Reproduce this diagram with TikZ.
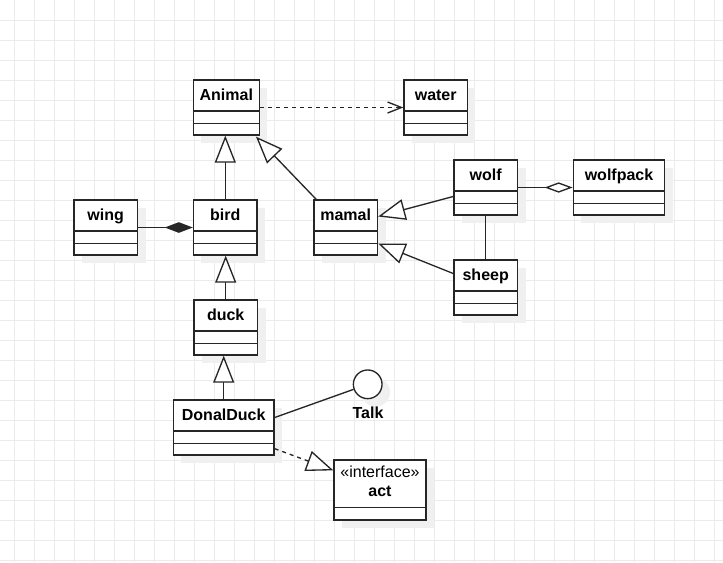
\documentclass[tikz,border=0pt]{standalone}
\usepackage{fontspec}
\setmainfont{Liberation Sans}
\usetikzlibrary{arrows.meta,shadows,calc}

\begin{document}
\begin{tikzpicture}[x=0.75pt,y=-0.75pt,
  every node/.style={font=\fontsize{12pt}{14.5pt}\selectfont\bfseries},
  gridline/.style={draw=black!8,line width=0.75pt},
  boxshadow/.style={drop shadow={shadow xshift=6pt,shadow yshift=-6pt,fill=black!6,opacity=1}},
  umlbox/.style={draw=black!85,fill=white,line width=1pt,inner sep=0pt,
    minimum width=#1,text height=15.5pt,text depth=25.75pt,boxshadow,
    path picture={\draw[black!85,line width=1pt]
      ([yshift=-23.25pt]path picture bounding box.north west) -- ([yshift=-23.25pt]path picture bounding box.north east)
      ([yshift=-32.5pt]path picture bounding box.north west) -- ([yshift=-32.5pt]path picture bounding box.north east);}},
  umlbox/.default=47.75pt,
  ifacebox/.style={draw=black!85,fill=white,line width=1pt,inner sep=0pt,align=center,
    minimum width=#1,text height=27.5pt,text depth=17.5pt,boxshadow,
    path picture={\draw[black!85,line width=1pt]
      ([yshift=-35.5pt]path picture bounding box.north west) -- ([yshift=-35.5pt]path picture bounding box.north east);}},
  ballnode/.style={circle,draw=black!85,fill=white,line width=1pt,inner sep=0pt,minimum size=21.5pt,boxshadow},
  conn/.style={draw=black!85,line width=1pt},
  gen/.style={conn,-{Triangle[open,fill=white,length=20.25pt,width=15.75pt]}},
  realize/.style={gen,dash pattern=on 3pt off 3pt},
  dep/.style={conn,dash pattern=on 3pt off 3pt,-{Straight Barb[length=10.5pt,width=8.25pt]}},
  compose/.style={conn,-{Diamond[length=21pt,width=8pt]}},
  aggregate/.style={conn,-{Diamond[open,fill=white,length=21pt,width=7.75pt]}}]

\fill[white] (0,0) rectangle (723,562);
\useasboundingbox (0,0) rectangle (723,562);
\foreach \gx in {14,34,...,714} \draw[gridline] (\gx,0) -- (\gx,562);
\foreach \gy in {20.7,40.7,...,560.7} \draw[gridline] (0,\gy) -- (723,\gy);

\node[umlbox=49.5pt] (animal) at (226.3,107.5) {Animal};
\node[umlbox=47.5pt] (water) at (435.7,107.5) {water};
\node[umlbox] (wing) at (105.7,227.5) {wing};
\node[umlbox] (bird) at (225.3,227.5) {bird};
\node[umlbox] (mamal) at (345.7,227.5) {mamal};
\node[umlbox] (wolf) at (485.7,187.5) {wolf};
\node[umlbox=68.5pt] (wolfpack) at (619,187.5) {wolfpack};
\node[umlbox] (sheep) at (485.7,287.5) {sheep};
\node[umlbox] (duck) at (225.7,327.5) {duck};
\node[umlbox=75.5pt] (donalduck) at (223.7,427.5) {DonalDuck};
\node[ifacebox=69pt] (act) at (380,490) {{\mdseries «interface»}\\act};
\node[ballnode] (talk) at (367.7,384.3) {};
\node[anchor=base] (talklbl) at (368,418.7) {Talk};

\draw[dep] (animal) -- (water);
\draw[gen] (bird.north) -- (bird.north |- animal.south);
\draw[gen] ($(mamal.north west)+(3,0)$) -- ($(animal.south east)+(-4,1)$);
\draw[compose] (wing) -- (bird);
\draw[gen] (duck.north) -- (duck.north |- bird.south);
\draw[gen] (donalduck.north) -- (donalduck.north |- duck.south);
\draw[gen] ($(wolf.west)+(0,9)$) -- ($(mamal.east)+(0,-11)$);
\draw[gen] ($(sheep.west)+(0,-14)$) -- ($(mamal.east)+(0,16)$);
\draw[conn] (wolf) -- (sheep);
\draw[aggregate] (wolf) -- (wolfpack);
\draw[conn] ($(donalduck.east)+(0,-10)$) -- (talk);
\draw[realize] ($(donalduck.south east)+(0,-7)$) -- ($(act.north west)+(0,11)$);
\end{tikzpicture}
\end{document}
